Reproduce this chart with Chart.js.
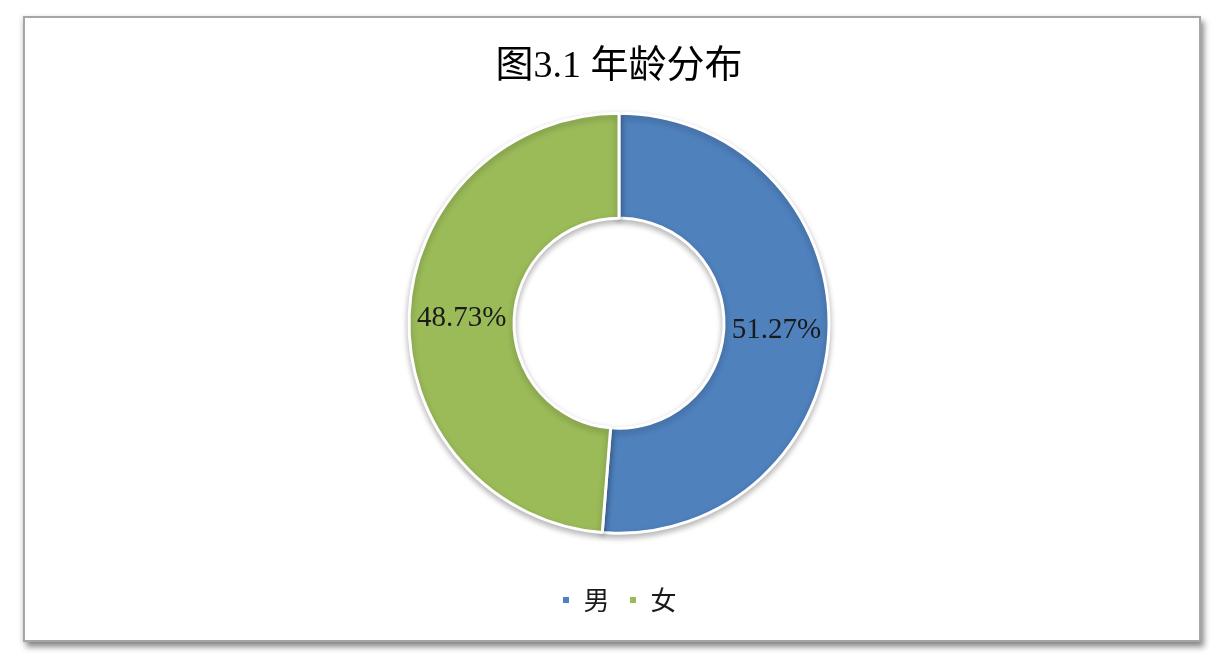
<!DOCTYPE html>
<html>
<head>
<meta charset="utf-8">
<script src="https://cdn.jsdelivr.net/npm/chart.js@4"></script>
<style>
  html, body { margin: 0; padding: 0; background: #fff; }
  body { width: 1218px; height: 664px; position: relative; overflow: hidden; }
  #frame {
    position: absolute; left: 23px; top: 16px; width: 1174px; height: 622px;
    border: 2px solid #a6a6a6; background: #fff;
    box-shadow: 3px 5px 6px rgba(0,0,0,0.45), -2px 0 4px rgba(0,0,0,0.08);
  }
  #wrap { position: absolute; left: 0; top: 0; width: 1218px; height: 664px; }
</style>
</head>
<body>
<div id="frame"></div>
<div id="wrap"><canvas id="chart"></canvas></div>
<script>
  const titleText = "图3.1 年龄分布";
  const genders = ["男", "女"];
  const shares = [51.27, 48.73];
  const sliceColors = ["#4F81BD", "#9BBB59"];

  // soft shadow under the ring
  const ringShadow = {
    id: "ringShadow",
    beforeDatasetsDraw(chart) {
      const ctx = chart.ctx;
      ctx.save();
      ctx.shadowColor = "rgba(0,0,0,0.28)";
      ctx.shadowBlur = 6;
      ctx.shadowOffsetY = 3;
    },
    afterDatasetsDraw(chart) {
      chart.ctx.restore();
    },
  };

  // percentage text in the middle of each slice
  const sliceLabels = {
    id: "sliceLabels",
    afterDatasetsDraw(chart) {
      const ctx = chart.ctx;
      const meta = chart.getDatasetMeta(0);
      ctx.save();
      ctx.font = '29px "Liberation Serif", "Noto Sans CJK SC", serif';
      ctx.fillStyle = "#1a1a1a";
      ctx.textAlign = "center";
      ctx.textBaseline = "middle";
      meta.data.forEach((arc, i) => {
        const pos = arc.tooltipPosition();
        ctx.fillText(shares[i].toFixed(2) + "%", pos.x, pos.y + 1);
      });
      ctx.restore();
    },
  };

  new Chart(document.getElementById("chart"), {
    type: "doughnut",
    data: {
      labels: genders,
      datasets: [
        {
          data: shares,
          backgroundColor: sliceColors,
          borderColor: "#ffffff",
          borderWidth: 3,
          radius: 210,
          cutout: "50%",
        },
      ],
    },
    options: {
      responsive: true,
      maintainAspectRatio: false,
      animation: false,
      layout: { padding: { left: 20, bottom: 41 } },
      plugins: {
        title: {
          display: true,
          text: titleText,
          color: "#000",
          font: {
            family: '"Liberation Serif", "Noto Sans CJK SC", serif',
            size: 38,
            weight: "normal",
            lineHeight: 0.6,
          },
          padding: { top: 55.6, bottom: 0 },
        },
        legend: {
          position: "bottom",
          labels: {
            boxWidth: 9,
            boxHeight: 9,
            padding: 19,
            color: "#1a1a1a",
            font: { family: '"Noto Sans CJK SC", sans-serif', size: 26 },
          },
        },
        tooltip: { enabled: false },
      },
    },
    plugins: [ringShadow, sliceLabels],
  });
</script>
</body>
</html>
